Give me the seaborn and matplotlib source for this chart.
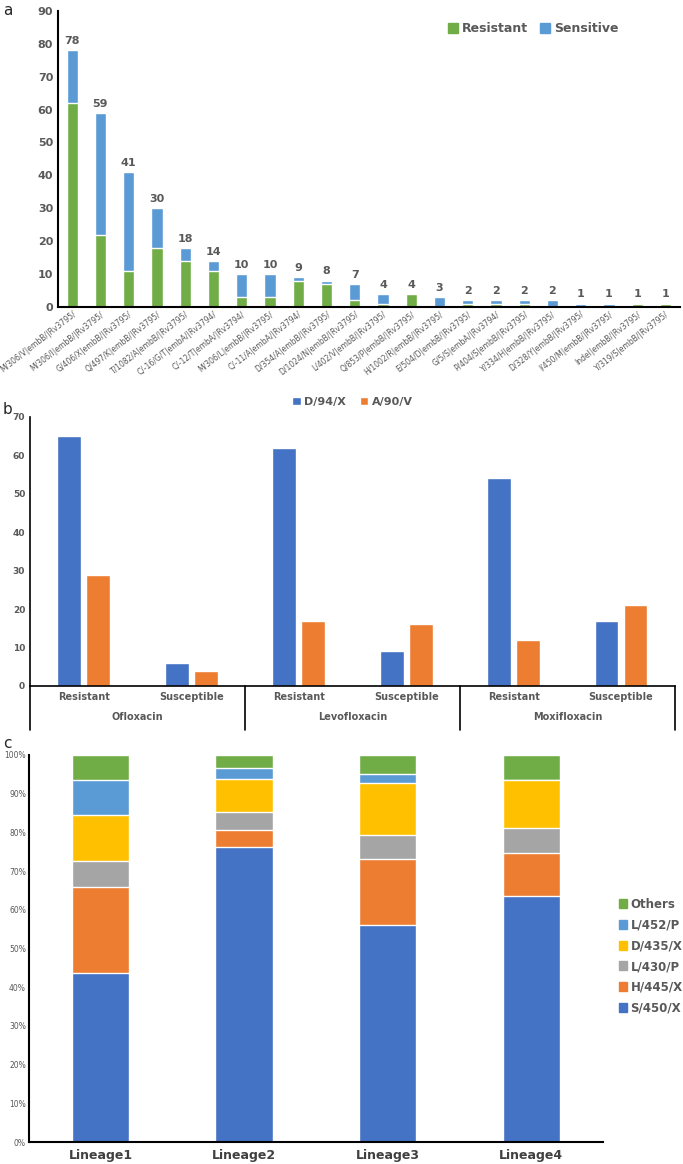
import numpy as np
import pandas as pd
import matplotlib
matplotlib.use("Agg")
import matplotlib.pyplot as plt
import matplotlib.transforms as mtransforms
from matplotlib.patches import Patch
from matplotlib.ticker import PercentFormatter
import seaborn as sns

# ---- panel a: embB / embA mutations ----
mutations = [
    "M/306/V|embB/|Rv3795/", "M/306/I|embB/|Rv3795/", "G/406/X|embB/|Rv3795/",
    "Q/497/K|embB/|Rv3795/", "T/1082/A|embB/|Rv3795/", "C/-16/G/T|embA/|Rv3794/",
    "C/-12/T|embA/|Rv3794/", "M/306/L|embB/|Rv3795/", "C/-11/A|embA/|Rv3794/",
    "D/354/A|embB/|Rv3795/", "D/1024/N|embB/|Rv3795/", "L/402/V|embB/|Rv3795/",
    "Q/853/P|embB/|Rv3795/", "H/1002/R|embB/|Rv3795/", "E/504/D|embB/|Rv3795/",
    "G/5/S|embA/|Rv3794/", "P/404/S|embB/|Rv3795/", "Y/334/H|embB/|Rv3795/",
    "D/328/Y|embB/|Rv3795/", "I/450/M|embB/|Rv3795/", "Indel|embB/|Rv3795/",
    "Y/319/S|embB/|Rv3795/",
]
totals = [78, 59, 41, 30, 18, 14, 10, 10, 9, 8, 7, 4, 4, 3, 2, 2, 2, 2, 1, 1, 1, 1]
resistant = [62, 22, 11, 18, 14, 11, 3, 3, 8, 7, 2, 1, 4, 0, 1, 1, 1, 0, 0, 0, 1, 1]

# ---- panel b: gyrA mutations vs fluoroquinolone phenotype ----
drugs = ["Ofloxacin", "Levofloxacin", "Moxifloxacin"]
phenotypes = ["Resistant", "Susceptible"]
d94x = [65, 6, 62, 9, 54, 17]
a90v = [29, 4, 17, 16, 12, 21]

# ---- panel c: rpoB mutations by lineage (%) ----
lineages = ["Lineage1", "Lineage2", "Lineage3", "Lineage4"]
s450x = [43.7, 76.3, 56.1, 63.5]
h445x = [22.2, 4.4, 17.0, 11.2]
l430p = [6.7, 4.5, 6.2, 6.4]
d435x = [11.8, 8.7, 13.5, 12.5]
l452p = [9.1, 2.7, 2.4, 0.0]
others = [6.5, 3.4, 4.8, 6.4]

GRAY = "#595959"
GREEN = "#70AD47"
LBLUE = "#5B9BD5"
BLUE = "#4472C4"
ORANGE = "#ED7D31"

sns.set_theme(style="white")
plt.rcParams['font.family'] = ['DejaVu Sans']

fig = plt.figure(figsize=(6.83, 11.64), dpi=100)

# ================= a =================
ax = fig.add_axes([0.085, 0.7363, 0.91, 0.2543])
df_a = pd.DataFrame({"mutation": mutations, "total": totals, "resistant": resistant})
sns.barplot(data=df_a, x="mutation", y="total", color=LBLUE, width=0.4,
            saturation=1, ax=ax)
sns.barplot(data=df_a, x="mutation", y="resistant", color=GREEN, width=0.4,
            saturation=1, ax=ax)
ax.bar_label(ax.containers[0], fontsize=8, fontweight="bold", color=GRAY, padding=3)
ax.set_xlim(-0.5, len(mutations) - 0.5)
ax.set_ylim(0, 90)
ax.set_yticks(range(0, 91, 10))
ax.set_xlabel("")
ax.set_ylabel("")
ax.tick_params(axis="y", labelsize=8, colors=GRAY, length=0)
ax.tick_params(axis="x", labelsize=5.5, colors=GRAY, length=0, pad=2)
for t in ax.get_yticklabels():
    t.set_fontweight("bold")
plt.setp(ax.get_xticklabels(), rotation=38, ha="right", rotation_mode="anchor")
sns.despine(ax=ax)
for s in ["left", "bottom"]:
    ax.spines[s].set_color("black")
    ax.spines[s].set_linewidth(1.5)
ax.legend(handles=[Patch(color=GREEN, label="Resistant"), Patch(color=LBLUE, label="Sensitive")],
          loc="upper right", bbox_to_anchor=(0.92, 1.0), ncol=2, frameon=False,
          prop={"weight": "bold", "size": 9}, labelcolor=GRAY, handlelength=0.8,
          handleheight=0.8, handletextpad=0.3, columnspacing=1.0)
fig.text(0.004, 0.997, "a", fontsize=11, va="top")

# ================= b =================
ax = fig.add_axes([0.044, 0.4107, 0.944, 0.2311])
groups = [f"{d}|{p}" for d in drugs for p in phenotypes]
df_b = pd.DataFrame({"group": groups, "D/94/X": d94x, "A/90/V": a90v})
df_b = df_b.melt(id_vars="group", var_name="mutation", value_name="count")
sns.barplot(data=df_b, x="group", y="count", hue="mutation", palette=[BLUE, ORANGE],
            width=0.54, gap=0.18, saturation=1, ax=ax)
ax.set_xlim(-0.5, len(groups) - 0.5)
ax.set_ylim(0, 70)
ax.set_yticks(range(0, 71, 10))
ax.set_xlabel("")
ax.set_ylabel("")
ax.set_xticks(range(len(groups)))
ax.set_xticklabels(phenotypes * len(drugs))
ax.tick_params(axis="y", labelsize=6.5, colors=GRAY, length=0)
ax.tick_params(axis="x", labelsize=7, colors=GRAY, length=0, pad=4)
for t in ax.get_yticklabels() + ax.get_xticklabels():
    t.set_fontweight("bold")
sns.despine(ax=ax)
for s in ["left", "bottom"]:
    ax.spines[s].set_color("black")
    ax.spines[s].set_linewidth(1.2)
blend = mtransforms.blended_transform_factory(ax.transData, ax.transAxes)
for i, drug in enumerate(drugs):
    ax.text(2 * i + 0.5, -0.095, drug, transform=blend, ha="center", va="top",
            fontsize=7, fontweight="bold", color=GRAY)
for xb in [-0.5, 1.5, 3.5, 5.5]:
    ax.plot([xb, xb], [0, -0.165], transform=blend, color="black", lw=1.2, clip_on=False)
sns.move_legend(ax, "lower center", bbox_to_anchor=(0.5, 1.0), ncol=2, frameon=False,
                title=None, prop={"weight": "bold", "size": 8}, labelcolor=GRAY,
                handlelength=0.8, handleheight=0.8, handletextpad=0.3, columnspacing=1.2)
fig.text(0.004, 0.655, "b", fontsize=11, va="top")

# ================= c =================
ax = fig.add_axes([0.042, 0.0189, 0.841, 0.3325])
segments = [
    ("S/450/X", s450x, BLUE),
    ("H/445/X", h445x, ORANGE),
    ("L/430/P", l430p, "#A5A5A5"),
    ("D/435/X", d435x, "#FFC000"),
    ("L/452/P", l452p, LBLUE),
    ("Others", others, GREEN),
]
cum = np.zeros(len(lineages))
stacks = []
for name, vals, col in segments:
    cum = cum + np.array(vals)
    stacks.append((name, cum.copy(), col))
for name, top, col in reversed(stacks):
    sns.barplot(x=lineages, y=top, color=col, width=0.4, saturation=1, ax=ax)
ax.set_ylim(0, 100)
ax.set_yticks(range(0, 101, 10))
ax.yaxis.set_major_formatter(PercentFormatter(100, decimals=0))
ax.tick_params(axis="y", labelsize=5.5, colors=GRAY, length=0, pad=2)
ax.tick_params(axis="x", labelsize=9, colors="#404040", length=0, pad=5)
for t in ax.get_xticklabels():
    t.set_fontweight("bold")
sns.despine(ax=ax)
for s in ["left", "bottom"]:
    ax.spines[s].set_color("black")
    ax.spines[s].set_linewidth(1.5)
handles = [Patch(color=col, label=name) for name, vals, col in reversed(segments)]
ax.legend(handles=handles, loc="center left", bbox_to_anchor=(1.028, 0.48), frameon=False,
          prop={"weight": "bold", "size": 8.5}, labelcolor=GRAY, handlelength=0.7,
          handleheight=0.8, handletextpad=0.25, labelspacing=0.65,
          borderpad=0, borderaxespad=0)
fig.text(0.004, 0.368, "c", fontsize=11, va="top")

fig.savefig("out.png", dpi=100)
